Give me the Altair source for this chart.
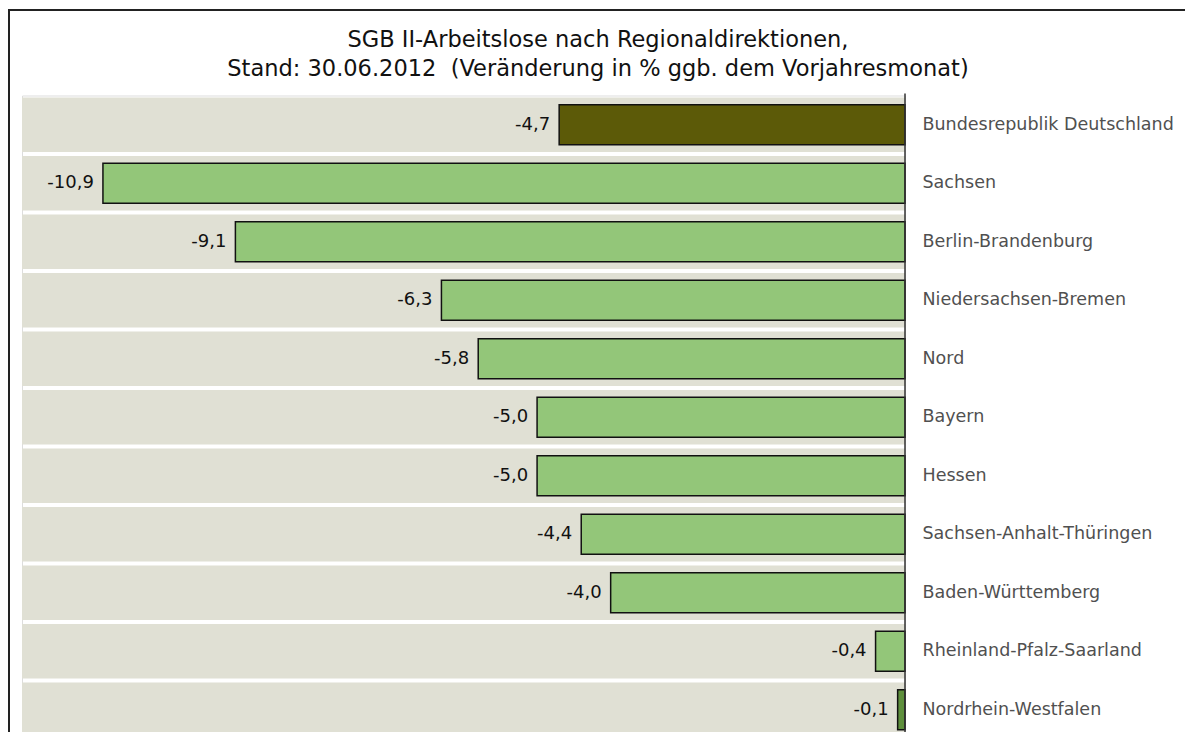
import altair as alt
import pandas as pd

regions = [
    "Bundesrepublik Deutschland",
    "Sachsen",
    "Berlin-Brandenburg",
    "Niedersachsen-Bremen",
    "Nord",
    "Bayern",
    "Hessen",
    "Sachsen-Anhalt-Thüringen",
    "Baden-Württemberg",
    "Rheinland-Pfalz-Saarland",
    "Nordrhein-Westfalen",
]
values = [-4.7, -10.9, -9.1, -6.3, -5.8, -5.0, -5.0, -4.4, -4.0, -0.4, -0.1]
groups = ["bund", "rd", "rd", "rd", "rd", "rd", "rd", "rd", "rd", "rd", "nrw"]
title_line1 = "SGB II-Arbeitslose nach Regionaldirektionen,"
title_line2 = "Stand: 30.06.2012\u00a0 (Veränderung in % ggb. dem Vorjahresmonat)"

df = pd.DataFrame({
    "region": regions,
    "value": values,
    "group": groups,
    "label": [f"{v:.1f}".replace(".", ",") for v in values],
    "lo": [-12] * len(regions),
    "hi": [0] * len(regions),
})

FONT = "DejaVu Sans"
W = 883
STEP = 58.5
H = 636.5

yscale = alt.Scale(domain=regions, range=[0, STEP * len(regions)], paddingInner=0.07, paddingOuter=0.035)
xscale = alt.Scale(domain=[-12, 0], nice=False, zero=False)

base = alt.Chart(df)

bands = base.mark_bar(color="#e0e0d4").encode(
    y=alt.Y("region:N", sort=regions, scale=yscale,
            axis=alt.Axis(orient="right", title=None, ticks=False, domain=False,
                          labelPadding=17, labelFontSize=17.5, labelColor="#505050",
                          labelFont=FONT, labelAlign="left", labelLimit=400)),
    x=alt.X("lo:Q", scale=xscale, axis=None),
    x2="hi:Q",
)

bars = base.mark_bar(size=40, stroke="#111111", strokeWidth=1.5).encode(
    y=alt.Y("region:N", sort=regions, scale=yscale),
    x=alt.X("value:Q", scale=xscale),
    x2=alt.datum(0),
    color=alt.Color("group:N",
                    scale=alt.Scale(domain=["bund", "rd", "nrw"],
                                    range=["#5c5a08", "#93c679", "#5e8f3c"]),
                    legend=None),
)

texts = base.mark_text(align="right", baseline="middle", dx=-9, fontSize=18,
                       font=FONT, color="#111111").encode(
    y=alt.Y("region:N", sort=regions, scale=yscale),
    x=alt.X("value:Q", scale=xscale),
    text="label:N",
)

zero = alt.Chart(pd.DataFrame({"z": [0]})).mark_rule(color="#333333", strokeWidth=1.5).encode(
    x=alt.X("z:Q", scale=xscale),
    y=alt.value(-2),
    y2=alt.value(STEP * len(regions)),
)

frame = alt.Chart(pd.DataFrame({"z": [0]})).mark_rect(
    fill="transparent", stroke="#222222", strokeWidth=2).encode(
    x=alt.value(-13), x2=alt.value(1300),
    y=alt.value(-85.5), y2=alt.value(900),
)

def title_text(line, ypos):
    return alt.Chart(pd.DataFrame({"t": [line]})).mark_text(
        align="center", baseline="middle", fontSize=22.5, font=FONT,
        color="#111111").encode(
        x=alt.value(576), y=alt.value(ypos), text="t:N")

chart = alt.layer(
    frame, bands, bars, texts, zero,
    title_text(title_line1, -55.5), title_text(title_line2, -26.5),
).properties(
    width=W,
    height=H,
    padding={"left": 14, "top": 87.5, "right": 280, "bottom": 0},
    autosize=alt.AutoSizeParams(type="none"),
).configure_view(stroke=None).configure(background="white")

chart.save("out.html", embed_options={"renderer": "svg", "actions": False})
